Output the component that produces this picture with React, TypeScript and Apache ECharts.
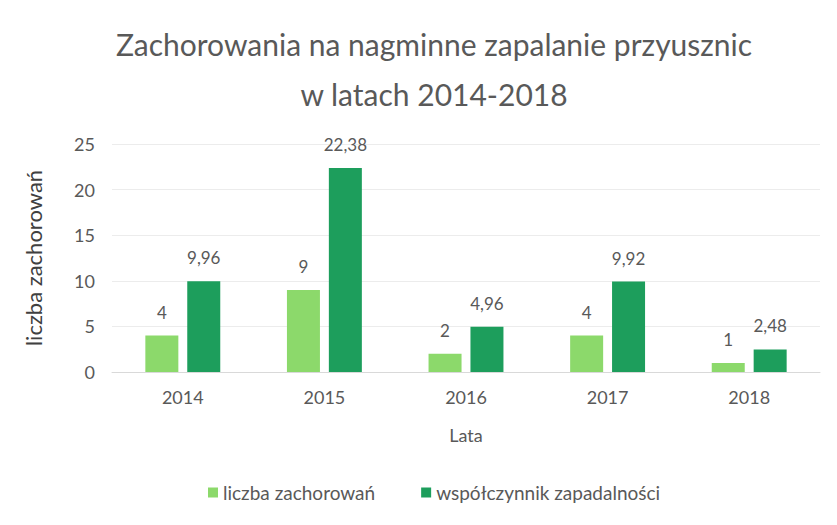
import React, { useEffect, useRef } from "react";
import * as echarts from "echarts";

const years = ["2014", "2015", "2016", "2017", "2018"];
const cases = [4, 9, 2, 4, 1];
const incidence = [9.96, 22.38, 4.96, 9.92, 2.48];
const seriesNames = ["liczba zachorowań", "współczynnik zapadalności"];

const FONT = "Lato, 'Open Sans', sans-serif";
const GRAY = "#595959";

export default function App() {
  const ref = useRef<HTMLDivElement>(null);
  useEffect(() => {
    const chart = echarts.init(ref.current!, null, { renderer: "svg" });
    const fmt = (p: any) => String(p.value).replace(".", ",");
    chart.setOption({
      animation: false,
      backgroundColor: "#ffffff",
      textStyle: { fontFamily: FONT, color: GRAY },
      title: {
        text: "Zachorowania na nagminne zapalanie przyusznic\nw latach 2014-2018",
        left: 421,
        top: 6,
        textAlign: "center",
        textStyle: { fontFamily: FONT, fontSize: 30, fontWeight: "normal", color: GRAY, lineHeight: 50 },
      },
      legend: {
        bottom: 10,
        left: 195,
        itemWidth: 10,
        itemHeight: 10,
        itemGap: 46,
        icon: "rect",
        textStyle: { fontFamily: FONT, fontSize: 19, color: GRAY },
        data: seriesNames,
      },
      grid: { left: 104, right: 9, top: 136, bottom: 145, containLabel: false },
      xAxis: {
        type: "category",
        data: years,
        name: "Lata",
        nameLocation: "middle",
        nameGap: 54,
        nameTextStyle: { fontFamily: FONT, fontSize: 18, color: GRAY },
        axisTick: { show: false },
        axisLine: { lineStyle: { color: "#d9d9d9" } },
        axisLabel: { fontFamily: FONT, fontSize: 18, color: GRAY, margin: 16 },
      },
      yAxis: {
        type: "value",
        min: 0,
        max: 25,
        interval: 5,
        name: "liczba zachorowań",
        nameLocation: "middle",
        nameGap: 68,
        nameTextStyle: { fontFamily: FONT, fontSize: 22, color: "#404040" },
        axisLabel: { fontFamily: FONT, fontSize: 18, color: GRAY, margin: 17 },
        splitLine: { lineStyle: { color: "#ececec" } },
        axisLine: { show: false },
        axisTick: { show: false },
      },
      series: [
        {
          name: seriesNames[0],
          type: "bar",
          data: cases,
          barWidth: 33,
          barGap: "27%",
          itemStyle: { color: "#8cd96b" },
          label: { show: true, position: "top", distance: 15, fontFamily: FONT, fontSize: 17, color: GRAY, formatter: fmt },
        },
        {
          name: seriesNames[1],
          type: "bar",
          data: incidence,
          barWidth: 33,
          itemStyle: { color: "#1d9e5c" },
          label: { show: true, position: "top", distance: 15, fontFamily: FONT, fontSize: 17, color: GRAY, formatter: fmt },
        },
      ],
    });
    return () => chart.dispose();
  }, []);
  return <div ref={ref} style={{ width: 821, height: 509 }} />;
}
